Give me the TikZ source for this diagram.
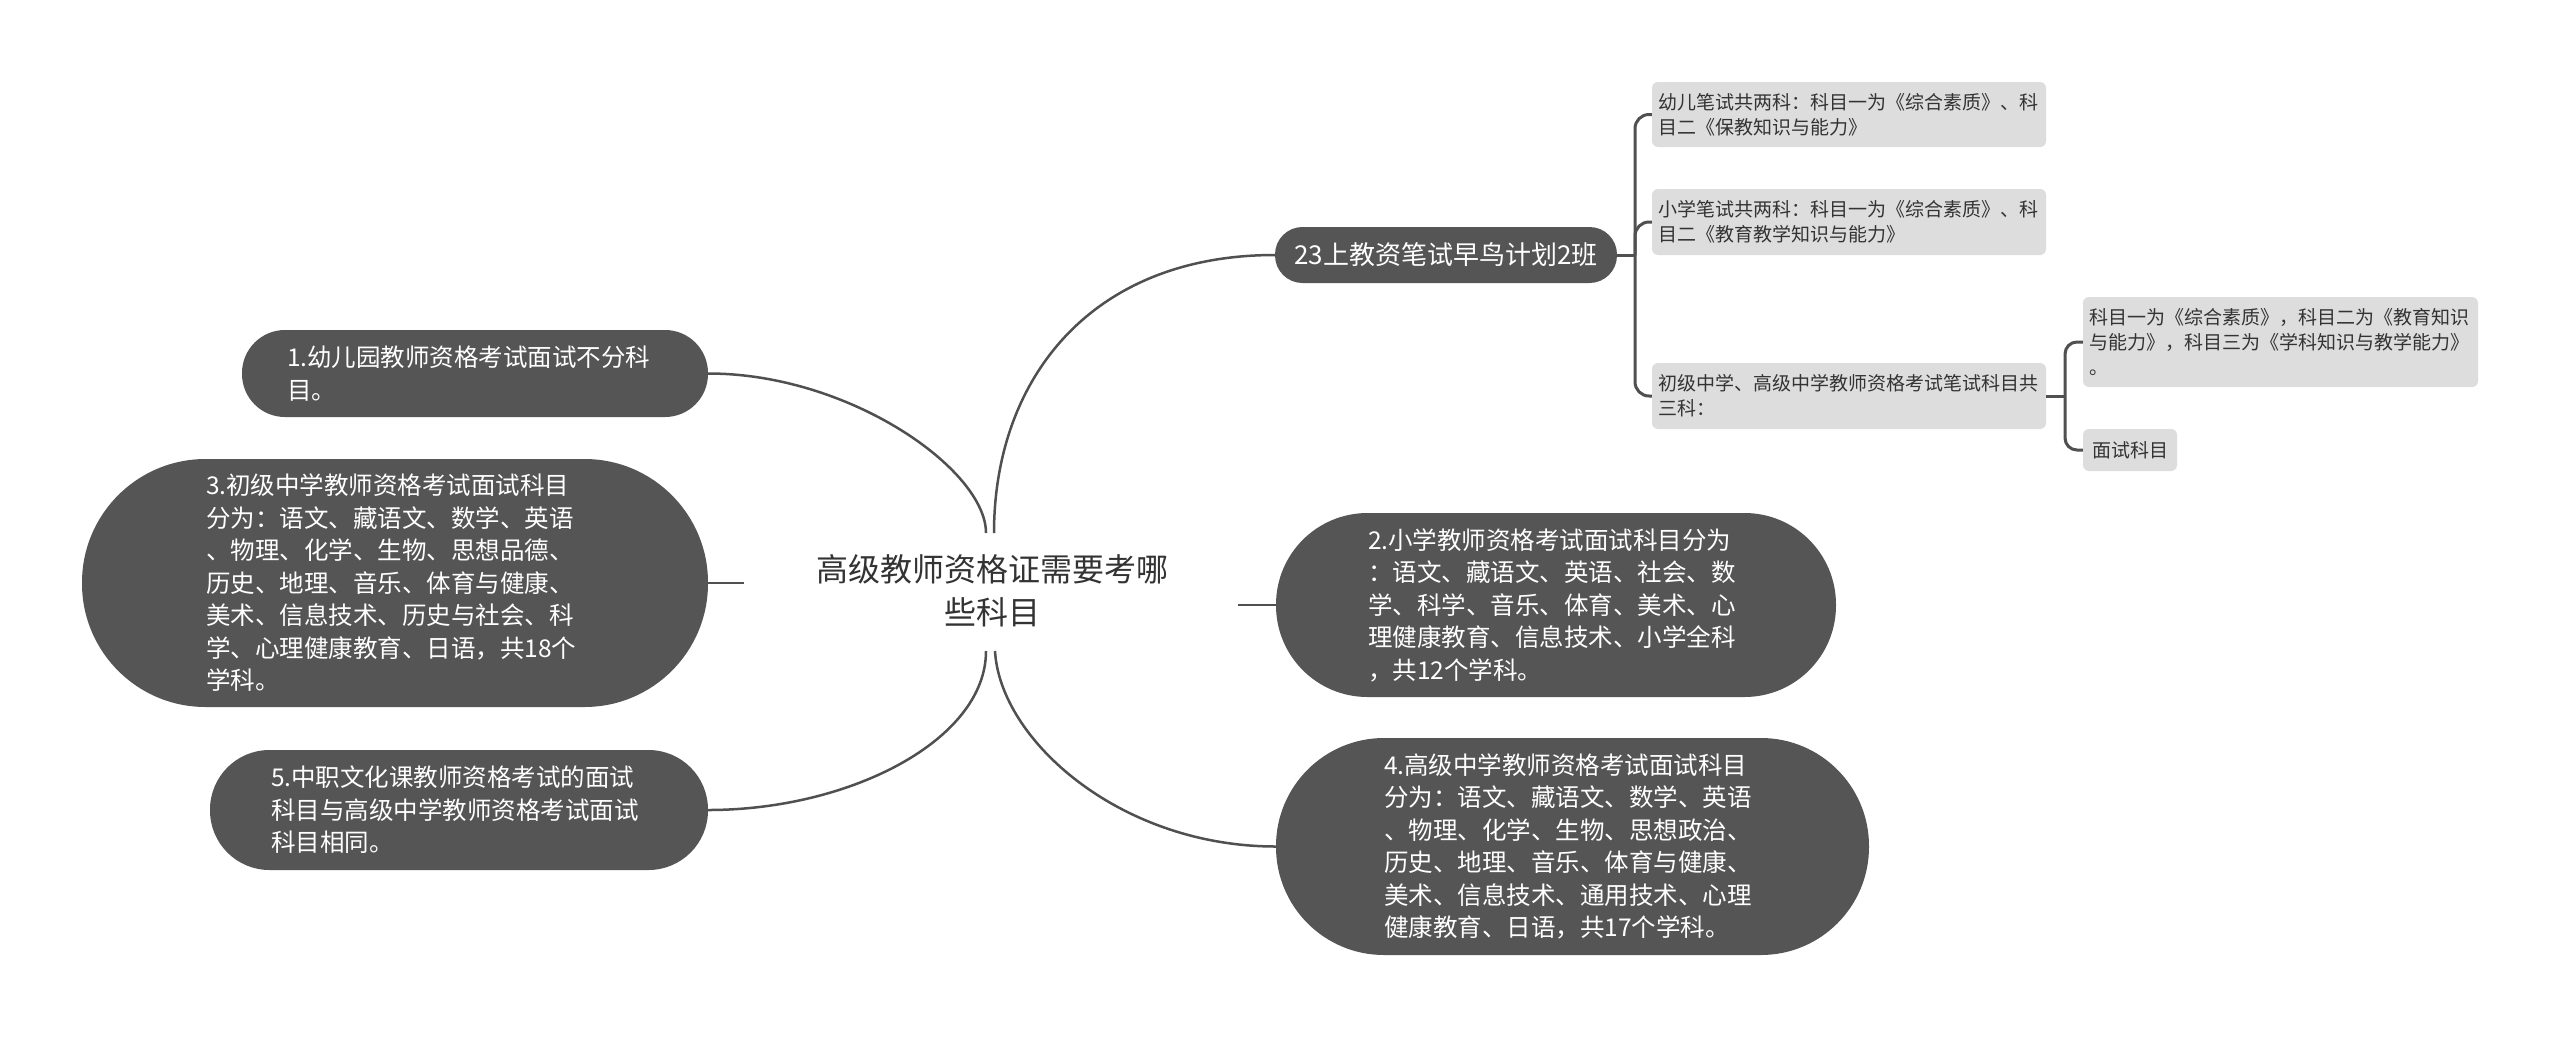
\documentclass[tikz,border=0pt]{standalone}
\usepackage{fontspec}
\setmainfont{Noto Sans CJK SC}
\definecolor{nodegray}{HTML}{555555}
\definecolor{boxgray}{HTML}{DDDDDD}
\definecolor{linegray}{HTML}{505050}
\definecolor{txt}{HTML}{333333}
\tikzset{
  darknode/.style={fill=nodegray, text=white, font=\fontsize{24.5}{32.5}\selectfont, align=left, inner sep=0pt},
  lightnode/.style={fill=boxgray, text=txt, font=\fontsize{19}{25}\selectfont, align=left, inner xsep=0pt, inner ysep=0pt, rounded corners=6},
  link/.style={draw=linegray, line width=2.5},
  bracket/.style={draw=linegray, line width=3},
}
\begin{document}
\begin{tikzpicture}[x=1pt,y=-1pt]
\fill[white] (0,0) rectangle (2560,1037);
\useasboundingbox (0,0) rectangle (2560,1037);

% root
\node[font=\fontsize{32}{43}\selectfont, align=center, text=txt] (root) at (992,591) {高级教师资格证需要考哪\\些科目};
\coordinate (ctl) at (986,533);
\coordinate (ctr) at (994,533);
\coordinate (cbl) at (986,651);
\coordinate (cbr) at (995,651);
\coordinate (lstub) at (744,583);
\coordinate (rstub) at (1238,605);

% left nodes
\node[darknode, minimum width=466, minimum height=87, text width=376, rounded corners=43] (n1) at (475,373.5)
 {1.幼儿园教师资格考试面试不分科\\目。};
\node[darknode, minimum width=626, minimum height=248, text width=378, rounded corners=123.5] (n3) at (395,583)
 {3.初级中学教师资格考试面试科目\\分为：语文、藏语文、数学、英语\\、物理、化学、生物、思想品德、\\历史、地理、音乐、体育与健康、\\美术、信息技术、历史与社会、科\\学、心理健康教育、日语，共18个\\学科。};
\node[darknode, minimum width=498, minimum height=120, text width=376, rounded corners=59.5] (n5) at (459,810)
 {5.中职文化课教师资格考试的面试\\科目与高级中学教师资格考试面试\\科目相同。};

% right nodes
\node[darknode, minimum width=342, minimum height=56, align=center, font=\fontsize{26}{30}\selectfont, rounded corners=27.5] (g) at (1446,255)
 {23上教资笔试早鸟计划2班};
\node[darknode, minimum width=560, minimum height=184, text width=376, rounded corners=91.5] (n2) at (1556,605)
 {2.小学教师资格考试面试科目分为\\：语文、藏语文、英语、社会、数\\学、科学、音乐、体育、美术、心\\理健康教育、信息技术、小学全科\\，共12个学科。};
\node[darknode, minimum width=593, minimum height=217, text width=377, rounded corners=108] (n4) at (1572.5,846.5)
 {4.高级中学教师资格考试面试科目\\分为：语文、藏语文、数学、英语\\、物理、化学、生物、思想政治、\\历史、地理、音乐、体育与健康、\\美术、信息技术、通用技术、心理\\健康教育、日语，共17个学科。};

% light boxes
\node[lightnode, minimum width=394, minimum height=65, text width=382] (wa) at (1849,114.5)
 {幼儿笔试共两科：科目一为《综合素质》、科\\目二《保教知识与能力》};
\node[lightnode, minimum width=394, minimum height=66, text width=382] (wb) at (1849,222)
 {小学笔试共两科：科目一为《综合素质》、科\\目二《教育教学知识与能力》};
\node[lightnode, minimum width=394, minimum height=66, text width=382] (wc) at (1849,396)
 {初级中学、高级中学教师资格考试笔试科目共\\三科：};
\node[lightnode, minimum width=395, minimum height=90, text width=382] (wd) at (2280.5,342)
 {科目一为《综合素质》，科目二为《教育知识\\与能力》，科目三为《学科知识与教学能力》\\。};
\node[lightnode, minimum width=94, minimum height=42, align=center] (we) at (2130,450)
 {面试科目};

% main connectors
\draw[link] (n1.east) .. controls (850,373.5) and (986,470) .. (ctl);
\draw[link] (ctr) .. controls (994,380) and (1090,255) .. (g.west);
\draw[link] (cbl) .. controls (986,740) and (850,810) .. (n5.east);
\draw[link] (cbr) .. controls (1000,740) and (1120,846.5) .. (n4.west);
\draw[link] (n3.east) -- (lstub);
\draw[link] (rstub) -- (n2.west);

% brackets
\coordinate (j1) at (1635,255);
\draw[bracket] (g.east) -- (j1);
\draw[bracket, rounded corners=14] (j1) |- (wa.west);
\draw[bracket, rounded corners=14] (j1) |- (wb.west);
\draw[bracket, rounded corners=14] (j1) |- (wc.west);
\coordinate (j2) at (2065,396);
\draw[bracket] (wc.east) -- (j2);
\draw[bracket, rounded corners=12] (j2) |- (wd.west);
\draw[bracket, rounded corners=12] (j2) |- (we.west);
\end{tikzpicture}
\end{document}
